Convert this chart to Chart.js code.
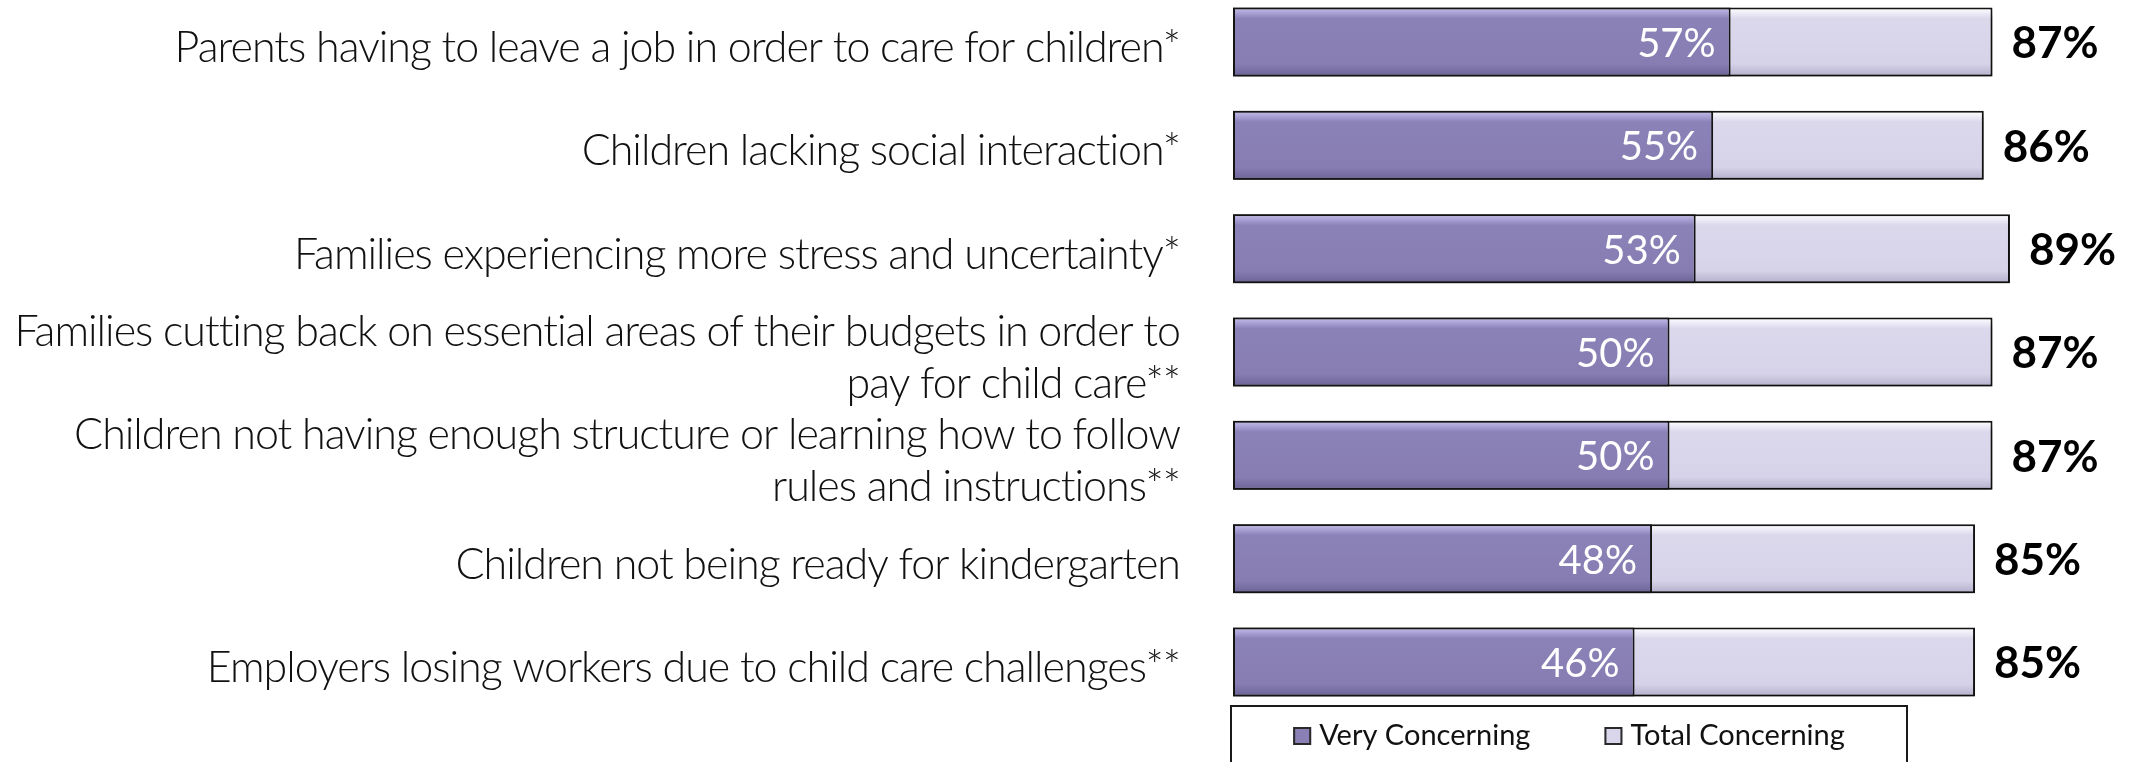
<!DOCTYPE html>
<html>
<head>
<meta charset="utf-8">
<script src="https://cdn.jsdelivr.net/npm/chart.js@4/dist/chart.umd.min.js"></script>
<style>
  html, body { margin: 0; padding: 0; background: #ffffff; }
  #wrap { width: 2131px; height: 762px; }
</style>
</head>
<body>
<div id="wrap"><canvas id="c" width="2131" height="762"></canvas></div>
<script>
// ---- Data ----
const categories = [
  'Parents having to leave a job in order to care for children*',
  'Children lacking social interaction*',
  'Families experiencing more stress and uncertainty*',
  ['Families cutting back on essential areas of their budgets in order to', 'pay for child care**'],
  ['Children not having enough structure or learning how to follow', 'rules and instructions**'],
  'Children not being ready for kindergarten',
  'Employers losing workers due to child care challenges**'
];
const seriesNames = ['Very Concerning', 'Total Concerning'];
const veryConcerning = [57, 55, 53, 50, 50, 48, 46];
const totalConcerning = [87, 86, 89, 87, 87, 85, 85];

// ---- Styling ----
const FAMILY = 'Lato, "Open Sans", "DejaVu Sans", sans-serif';
const LABEL_WEIGHT = 300;
const LABEL_SPACING = -1; // px letter spacing for category labels
const BAR_PCT = 0.667;
const VERY_STOPS = [[0, '#c6bfea'], [0.08, '#a9a1d4'], [0.16, '#8b82b8'], [0.82, '#877db2'], [1, '#6b6296']];
const TOTAL_STOPS = [[0, '#ffffff'], [0.08, '#eeecf7'], [0.16, '#dcd8ec'], [0.82, '#d6d2e8'], [1, '#b4afcb']];
const VERY_COLOR = '#8a80b5';
const TOTAL_COLOR = '#d9d5ea';

// fit the label font size so the longest label spans the same width as in the reference
const meas = document.createElement('canvas').getContext('2d');
meas.font = LABEL_WEIGHT + ' 100px ' + FAMILY;
const fitText = 'Families cutting back on essential areas of their budgets in order to';
const w100 = meas.measureText(fitText).width;
const labelSize = Math.round(((1166 + fitText.length * -LABEL_SPACING) / w100) * 100 * 10) / 10;

function barFill(c, stops, plain) {
  const chart = c.chart;
  const ys = chart.scales && chart.scales.y;
  if (!chart.chartArea || !ys || c.type !== 'data') return plain;
  const cy = ys.getPixelForValue(c.dataIndex);
  const half = (ys.height / (categories.length - 1)) * BAR_PCT / 2;
  const g = chart.ctx.createLinearGradient(0, cy - half, 0, cy + half);
  stops.forEach(([o, col]) => g.addColorStop(o, col));
  return g;
}

const spacingPlugin = {
  id: 'spacing',
  beforeUpdate(chart) { chart.ctx.letterSpacing = LABEL_SPACING + 'px'; },
  beforeDraw(chart) { chart.ctx.letterSpacing = LABEL_SPACING + 'px'; }
};

const shadowPlugin = {
  id: 'shadow',
  beforeDatasetDraw(chart, args) {
    if (args.index === 1) {
      const ctx = chart.ctx;
      ctx.save();
      ctx.shadowColor = 'rgba(0,0,0,0.45)';
      ctx.shadowBlur = 7;
      ctx.shadowOffsetY = 5;
      ctx.shadowOffsetX = 1;
    }
  },
  afterDatasetDraw(chart, args) {
    if (args.index === 1) chart.ctx.restore();
  }
};

const valueLabels = {
  id: 'valueLabels',
  afterDatasetsDraw(chart) {
    const ctx = chart.ctx;
    ctx.save();
    ctx.letterSpacing = '0px';
    ctx.textBaseline = 'middle';
    const m0 = chart.getDatasetMeta(0);
    const m1 = chart.getDatasetMeta(1);
    ctx.font = '40px ' + FAMILY;
    ctx.fillStyle = '#ffffff';
    ctx.textAlign = 'right';
    m0.data.forEach((bar, i) => ctx.fillText(veryConcerning[i] + '%', bar.x - 15, bar.y + 2));
    ctx.font = 'bold 44px ' + FAMILY;
    ctx.fillStyle = '#000000';
    ctx.textAlign = 'left';
    m1.data.forEach((bar, i) => ctx.fillText(totalConcerning[i] + '%', bar.x + 19, bar.y + 2));
    ctx.restore();
  }
};

const boxLegend = {
  id: 'boxLegend',
  afterDraw(chart) {
    const ctx = chart.ctx;
    const ca = chart.chartArea;
    const left = ca.left - 2, right = ca.left + 674, top = ca.bottom + 44;
    ctx.save();
    ctx.letterSpacing = '0px';
    ctx.strokeStyle = '#1a1a1a';
    ctx.lineWidth = 2;
    ctx.strokeRect(left, top, right - left, 120);
    ctx.font = '29px ' + FAMILY;
    ctx.textBaseline = 'middle';
    ctx.textAlign = 'left';
    const box = 18, gapIn = 8, gapBetween = 74;
    const items = chart.data.datasets.map((d, i) => ({
      text: d.label,
      color: i === 0 ? VERY_COLOR : TOTAL_COLOR,
      w: box + gapIn + ctx.measureText(d.label).width
    }));
    const total = items.reduce((s, it) => s + it.w, 0) + gapBetween * (items.length - 1);
    let x = (left + right) / 2 - total / 2;
    const cy = top + 30;
    items.forEach(it => {
      ctx.fillStyle = it.color;
      ctx.fillRect(x, cy - box / 2, box, box);
      ctx.lineWidth = 2;
      ctx.strokeStyle = '#2a2a2a';
      ctx.strokeRect(x + 1, cy - box / 2 + 1, box - 2, box - 2);
      ctx.fillStyle = '#111111';
      ctx.fillText(it.text, x + box + gapIn, cy);
      x += it.w + gapBetween;
    });
    ctx.restore();
  }
};

new Chart(document.getElementById('c'), {
  type: 'bar',
  data: {
    labels: categories,
    datasets: [
      {
        label: seriesNames[0],
        data: veryConcerning,
        backgroundColor: c => barFill(c, VERY_STOPS, VERY_COLOR),
        borderColor: '#141414',
        borderWidth: 2,
        borderSkipped: false,
        grouped: false,
        barPercentage: BAR_PCT,
        categoryPercentage: 1,
        clip: false
      },
      {
        label: seriesNames[1],
        data: totalConcerning,
        backgroundColor: c => barFill(c, TOTAL_STOPS, TOTAL_COLOR),
        borderColor: '#141414',
        borderWidth: 2,
        borderSkipped: false,
        grouped: false,
        barPercentage: BAR_PCT,
        categoryPercentage: 1,
        clip: false
      }
    ]
  },
  options: {
    indexAxis: 'y',
    responsive: false,
    devicePixelRatio: 1,
    animation: false,
    layout: { padding: { top: 42, bottom: 100, left: 0, right: 25 } },
    plugins: {
      legend: { display: false },
      tooltip: { enabled: false }
    },
    scales: {
      x: { type: 'linear', min: 0, max: 100, display: false },
      y: {
        type: 'category',
        offset: false,
        grid: { display: false, drawTicks: false },
        border: { display: false },
        ticks: {
          autoSkip: false,
          padding: 53,
          labelOffset: 6,
          color: '#111111',
          font: { family: FAMILY, weight: LABEL_WEIGHT, size: labelSize, lineHeight: '52px' }
        },
        afterFit(scale) {
          scale.width = 1233;
          scale.paddingTop = 0;
          scale.paddingBottom = 0;
        }
      }
    }
  },
  plugins: [spacingPlugin, shadowPlugin, valueLabels, boxLegend]
});
</script>
</body>
</html>
